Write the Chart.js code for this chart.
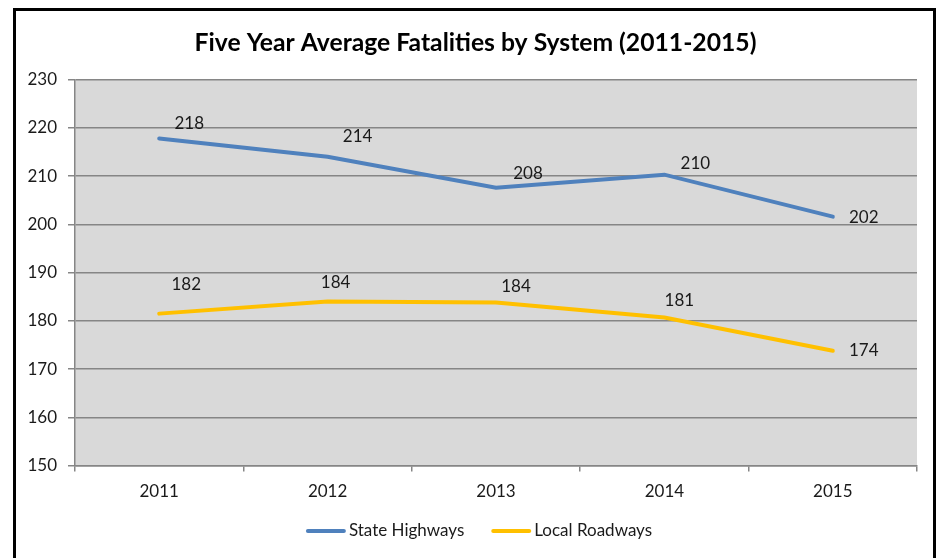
<!DOCTYPE html>
<html>
<head>
<meta charset="utf-8">
<script src="https://cdn.jsdelivr.net/npm/chart.js@4"></script>
<style>
  html, body { margin: 0; padding: 0; background: #fff; overflow: hidden; }
  #frame { position: absolute; left: 13px; top: 8px; width: 923px; height: 600px; border: 3px solid #000; box-sizing: border-box; }
  #wrap { position: absolute; left: 0; top: 0; width: 938px; height: 558px; }
</style>
</head>
<body>
<div id="frame"></div>
<div id="wrap"><canvas id="c" width="938" height="558"></canvas></div>
<script>
const categories = ['2011', '2012', '2013', '2014', '2015'];
const stateHighways = [217.8, 214.0, 207.6, 210.3, 201.6];
const localRoadways = [181.5, 184.0, 183.8, 180.7, 173.8];
const stateLabels = ['218', '214', '208', '210', '202'];
const localLabels = ['182', '184', '184', '181', '174'];

const FONT = 'Lato, "Open Sans", sans-serif';

const labelPlugin = {
  id: 'valueLabels',
  afterDatasetsDraw(chart, args, opts) {
    const ctx = chart.ctx;
    ctx.save();
    ctx.font = '17px ' + FONT;
    ctx.fillStyle = '#1a1a1a';
    ctx.textAlign = 'center';
    ctx.textBaseline = 'middle';
    chart.data.datasets.forEach((ds, di) => {
      const meta = chart.getDatasetMeta(di);
      const offs = opts.offsets[di];
      meta.data.forEach((pt, i) => {
        ctx.fillText(ds.labels[i], pt.x + offs[i][0], pt.y + offs[i][1]);
      });
    });
    ctx.restore();
  }
};

// legend drawn like the original: short line sample, text right after it
const lineLegend = {
  id: 'lineLegend',
  afterDraw(chart, args, opts) {
    const ctx = chart.ctx;
    ctx.save();
    ctx.font = '17px ' + FONT;
    ctx.textBaseline = 'middle';
    ctx.textAlign = 'left';
    const items = chart.data.datasets.map(ds => ({ ds, w: ctx.measureText(ds.label).width }));
    const total = items.reduce((s, it) => s + opts.sample + opts.gap + it.w, 0) + opts.itemGap * (items.length - 1);
    let x = opts.center - total / 2;
    const y = opts.y;
    items.forEach(it => {
      ctx.strokeStyle = it.ds.borderColor;
      ctx.lineWidth = it.ds.borderWidth;
      ctx.lineCap = 'round';
      ctx.beginPath();
      ctx.moveTo(x + 2, y);
      ctx.lineTo(x + opts.sample - 2, y);
      ctx.stroke();
      x += opts.sample + opts.gap;
      ctx.fillStyle = '#1a1a1a';
      ctx.fillText(it.ds.label, x, y);
      x += it.w + opts.itemGap;
    });
    ctx.restore();
  }
};

new Chart(document.getElementById('c'), {
  type: 'line',
  data: {
    labels: categories,
    datasets: [
      { label: 'State Highways', data: stateHighways, labels: stateLabels,
        borderColor: '#4f81bd', backgroundColor: '#4f81bd', borderWidth: 4,
        pointRadius: 0, tension: 0, borderCapStyle: 'round' },
      { label: 'Local Roadways', data: localRoadways, labels: localLabels,
        borderColor: '#ffc000', backgroundColor: '#ffc000', borderWidth: 4,
        pointRadius: 0, tension: 0, borderCapStyle: 'round' }
    ]
  },
  options: {
    responsive: false,
    animation: false,
    devicePixelRatio: 1,
    layout: { padding: { left: 0, right: 21, top: 0, bottom: 46 } },
    plugins: {
      title: {
        display: true,
        text: 'Five Year Average Fatalities by System (2011-2015)',
        color: '#000',
        font: { family: FONT, size: 24.7, weight: 'bold' },
        padding: { top: 28, bottom: 22 }
      },
      legend: { display: false },
      tooltip: { enabled: false },
      lineLegend: { center: 479, y: 531, sample: 40, gap: 3, itemGap: 27 },
      valueLabels: {
        offsets: [
          [[30, -15], [30, -20], [32, -14], [31, -11], [31, 1]],
          [[27, -29], [8, -19], [20, -16], [15, -17], [31, 0]]
        ]
      }
    },
    scales: {
      x: {
        offset: true,
        grid: { display: true, offset: true, drawOnChartArea: false, drawTicks: true, tickLength: 6, color: '#868686', lineWidth: 1.5 },
        border: { display: true, color: '#868686', width: 1.5 },
        ticks: { color: '#1a1a1a', font: { family: FONT, size: 17 }, padding: 10, maxRotation: 0 }
      },
      y: {
        min: 150, max: 230,
        afterFit(scale) { scale.width = 75; },
        grid: { color: '#868686', lineWidth: 1.5, tickLength: 7, drawTicks: true },
        border: { display: true, color: '#868686', width: 1.5 },
        ticks: { stepSize: 10, color: '#1a1a1a', font: { family: FONT, size: 17 }, padding: 11 }
      }
    }
  },
  plugins: [
    labelPlugin,
    lineLegend,
    {
      id: 'centerTitle',
      afterLayout(chart) { if (chart.titleBlock) chart.titleBlock.left += 34; }
    },
    {
      id: 'plotBg',
      beforeDraw(chart) {
        const a = chart.chartArea, ctx = chart.ctx;
        ctx.save();
        ctx.fillStyle = '#d9d9d9';
        ctx.fillRect(a.left, a.top, a.right - a.left, a.bottom - a.top);
        ctx.restore();
      }
    }
  ]
});
</script>
</body>
</html>
